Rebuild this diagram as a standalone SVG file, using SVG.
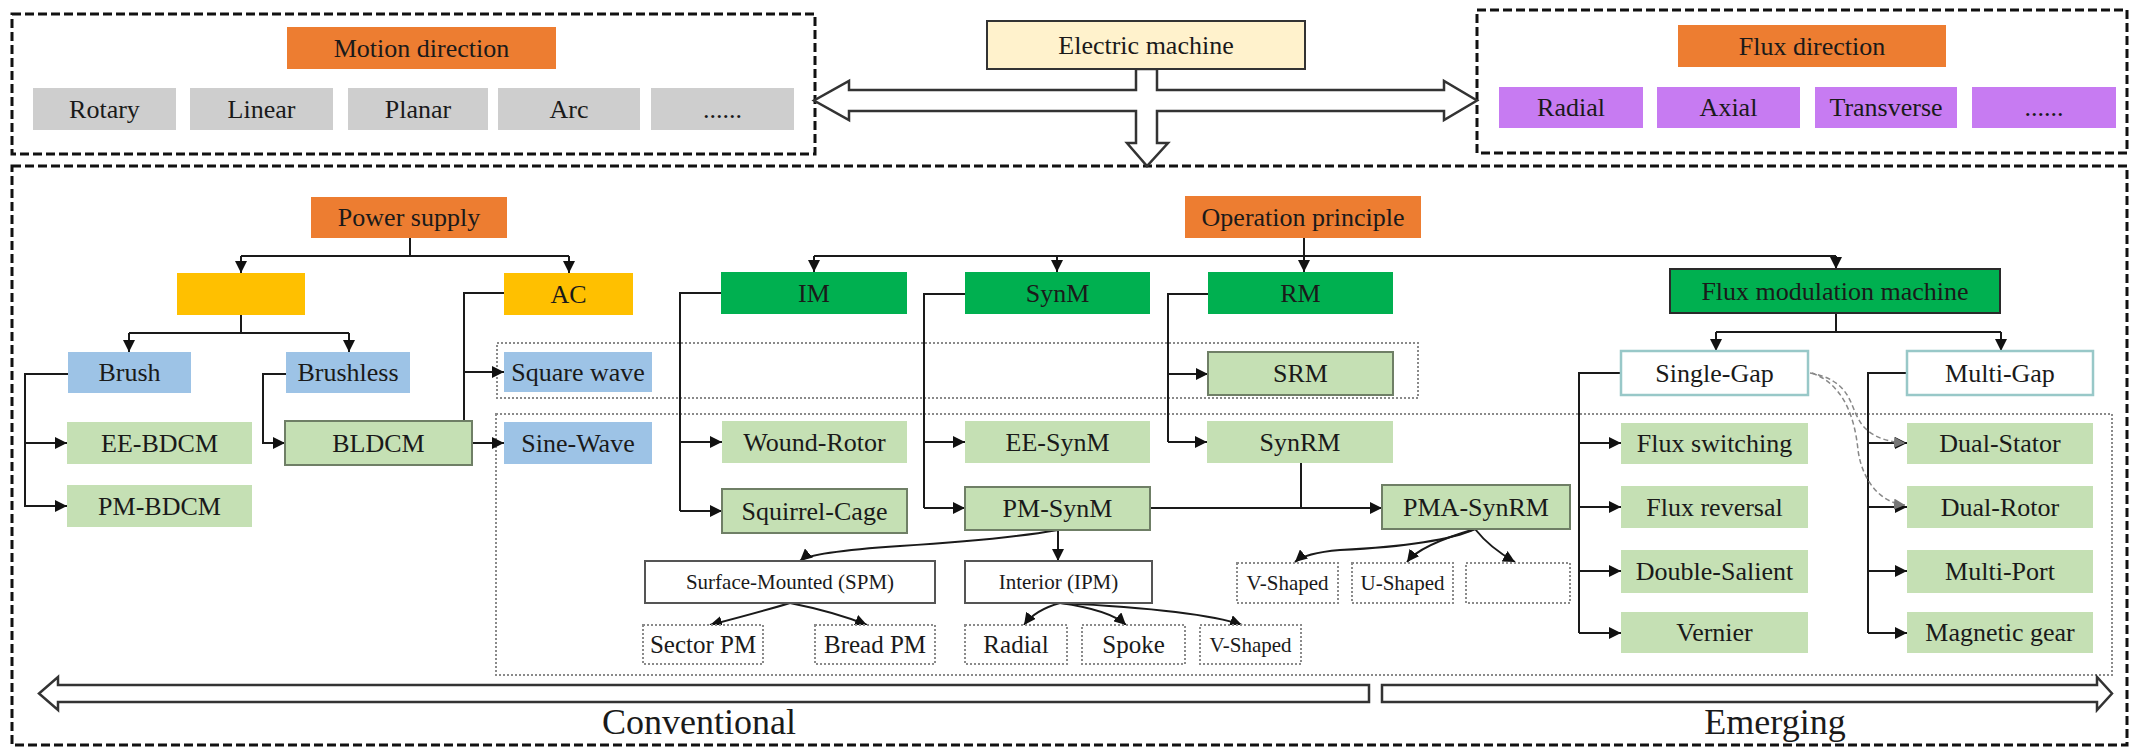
<svg xmlns="http://www.w3.org/2000/svg" width="2131" height="747" viewBox="0 0 2131 747">
<defs>
<marker id="ah" viewBox="0 0 10 10" refX="10" refY="5" markerWidth="12" markerHeight="12" markerUnits="userSpaceOnUse" orient="auto"><path d="M0,0 L10,5 L0,10 z" fill="#111"/></marker>
<marker id="ahg" viewBox="0 0 10 10" refX="10" refY="5" markerWidth="11" markerHeight="11" markerUnits="userSpaceOnUse" orient="auto"><path d="M0,0 L10,5 L0,10 z" fill="#777"/></marker>
<style>
text{font-family:"Liberation Serif","Times New Roman",serif;fill:#1a1a1a;text-anchor:middle;dominant-baseline:central}
.t26{font-size:26px}.t21{font-size:21px}.t25{font-size:25px}.t36{font-size:36px}
.frame{fill:none;stroke:#111;stroke-width:3;stroke-dasharray:9 4}
.dotbox{fill:none;stroke:#8a8a8a;stroke-width:2;stroke-dasharray:2 2}
.orange{fill:#ED7D31}
.gray{fill:#CECECE}
.purple{fill:#C77BF2}
.yellow{fill:#FFC000}
.blue{fill:#9DC3E6}
.dgreen{fill:#00B050}
.lgreen{fill:#C5E0B4}
.lgb{fill:#C5E0B4;stroke:#6f7f66;stroke-width:2}
.em{fill:#FFF2CC;stroke:#333;stroke-width:2}
.fmm{fill:#00B050;stroke:#2a2a2a;stroke-width:2}
.teal{fill:#fff;stroke:#98C8C8;stroke-width:2.5}
.solid{fill:#fff;stroke:#555;stroke-width:2}
.dotted{fill:#fff;stroke:#8a8a8a;stroke-width:2;stroke-dasharray:2 2}
.hollow{fill:#fff;stroke:#333;stroke-width:2.5;stroke-linejoin:miter}
#connectors path,#connectors line,#connectors polyline{fill:none;stroke:#1a1a1a;stroke-width:2}
#connectors .arr{marker-end:url(#ah)}
#connectors .gd{stroke:#888;stroke-width:1.5;stroke-dasharray:5 3;marker-end:url(#ahg)}
</style>
</defs>
<rect width="2131" height="747" fill="#fff"/>

<!-- frames -->
<g id="frames">
<rect class="frame" x="12" y="14" width="803" height="140"/>
<rect class="frame" x="1477" y="10" width="650" height="143"/>
<rect class="frame" x="12" y="166" width="2115" height="579"/>
<rect class="dotbox" x="497" y="343" width="921" height="55"/>
<rect class="dotbox" x="496" y="414" width="1616" height="261"/>
</g>

<!-- big hollow arrows -->
<g id="hollow-arrows">
<polygon class="hollow" points="1136,69 1136,90 849,90 849,81 814,100.5 849,120 849,111 1136,111 1136,143 1127,143 1147,166 1168,143 1157,143 1157,111 1444,111 1444,120 1477,100.5 1444,81 1444,90 1157,90 1157,69"/>
<polygon class="hollow" points="1369,685 58,685 58,677 39,693.5 58,710 58,702 1369,702"/>
<polygon class="hollow" points="1382,685 2097,685 2097,677 2112,693.5 2097,710 2097,702 1382,702"/>
</g>

<!-- connectors -->
<g id="connectors">
<line x1="410" y1="238" x2="410" y2="256"/>
<line x1="241" y1="256" x2="569" y2="256"/>
<line class="arr" x1="241" y1="256" x2="241" y2="273"/>
<line class="arr" x1="569" y1="256" x2="569" y2="273"/>
<line x1="241" y1="315" x2="241" y2="333"/>
<line x1="129" y1="333" x2="349" y2="333"/>
<line class="arr" x1="129" y1="333" x2="129" y2="352"/>
<line class="arr" x1="349" y1="333" x2="349" y2="352"/>
<polyline points="68,374 25,374 25,507"/>
<line class="arr" x1="25" y1="443" x2="67" y2="443"/>
<line class="arr" x1="25" y1="506" x2="67" y2="506"/>
<polyline class="arr" points="286,374 263,374 263,443 285,443"/>
<polyline class="arr" points="504,293 464,293 464,443 504,443"/>
<line class="arr" x1="464" y1="372" x2="504" y2="372"/>
<line x1="1304" y1="238" x2="1304" y2="256"/>
<line x1="814" y1="256" x2="1836" y2="256"/>
<line class="arr" x1="814" y1="256" x2="814" y2="272"/>
<line class="arr" x1="1057" y1="256" x2="1057" y2="272"/>
<line class="arr" x1="1304" y1="256" x2="1304" y2="272"/>
<line class="arr" x1="1836" y1="256" x2="1836" y2="269"/>
<polyline points="721,293 680,293 680,511"/>
<line class="arr" x1="680" y1="442" x2="722" y2="442"/>
<line class="arr" x1="680" y1="511" x2="722" y2="511"/>
<polyline points="965,294 924,294 924,508"/>
<line class="arr" x1="924" y1="442" x2="965" y2="442"/>
<line class="arr" x1="924" y1="508" x2="965" y2="508"/>
<polyline points="1208,294 1168,294 1168,442"/>
<line class="arr" x1="1168" y1="374" x2="1208" y2="374"/>
<line class="arr" x1="1168" y1="442" x2="1207" y2="442"/>
<line x1="1301" y1="463" x2="1301" y2="508"/>
<line class="arr" x1="1150" y1="508" x2="1382" y2="508"/>
<path class="arr" d="M1058,530 Q1000,540 900,546 Q810,552 800,561"/>
<line class="arr" x1="1058" y1="530" x2="1058" y2="561"/>
<path class="arr" d="M790,603 Q760,612 710,625"/>
<path class="arr" d="M790,603 Q835,612 867,625"/>
<path class="arr" d="M1060,603 Q1035,610 1024,625"/>
<path class="arr" d="M1060,603 Q1110,610 1126,625"/>
<path class="arr" d="M1060,603 Q1200,610 1242,625"/>
<path class="arr" d="M1475,529 Q1440,545 1340,550 Q1305,553 1295,562"/>
<path class="arr" d="M1475,529 Q1420,545 1407,562"/>
<path class="arr" d="M1475,529 Q1490,548 1515,562"/>
<line x1="1836" y1="313" x2="1836" y2="332"/>
<line x1="1716" y1="332" x2="2001" y2="332"/>
<line class="arr" x1="1716" y1="332" x2="1716" y2="351"/>
<line class="arr" x1="2001" y1="332" x2="2001" y2="351"/>
<polyline points="1621,373 1579,373 1579,633"/>
<line class="arr" x1="1579" y1="443" x2="1621" y2="443"/>
<line class="arr" x1="1579" y1="507" x2="1621" y2="507"/>
<line class="arr" x1="1579" y1="571" x2="1621" y2="571"/>
<line class="arr" x1="1579" y1="633" x2="1621" y2="633"/>
<polyline points="1907,373 1868,373 1868,633"/>
<line class="arr" x1="1868" y1="443" x2="1907" y2="443"/>
<line class="arr" x1="1868" y1="507" x2="1907" y2="507"/>
<line class="arr" x1="1868" y1="571" x2="1907" y2="571"/>
<line class="arr" x1="1868" y1="633" x2="1907" y2="633"/>
<path class="gd" d="M1810,373 C1850,380 1850,405 1858,418 C1866,435 1885,442 1905,443"/>
<path class="gd" d="M1812,373 C1845,385 1855,420 1858,450 C1862,480 1880,503 1905,505"/>
</g>

<!-- nodes -->
<g id="motion-direction"><rect class="orange" x="287" y="27" width="269" height="42"/><text class="t26" x="421.5" y="48">Motion direction</text></g>
<g id="rotary"><rect class="gray" x="33" y="88" width="143" height="42"/><text class="t26" x="104.5" y="109">Rotary</text></g>
<g id="linear"><rect class="gray" x="190" y="88" width="143" height="42"/><text class="t26" x="261.5" y="109">Linear</text></g>
<g id="planar"><rect class="gray" x="348" y="88" width="140" height="42"/><text class="t26" x="418" y="109">Planar</text></g>
<g id="arc"><rect class="gray" x="498" y="88" width="142" height="42"/><text class="t26" x="569" y="109">Arc</text></g>
<g id="motion-more"><rect class="gray" x="651" y="88" width="143" height="42"/><text class="t26" x="722.5" y="109">......</text></g>

<g id="electric-machine"><rect class="em" x="987" y="21" width="318" height="48"/><text class="t26" x="1146" y="45">Electric machine</text></g>

<g id="flux-direction"><rect class="orange" x="1678" y="25" width="268" height="42"/><text class="t26" x="1812" y="46">Flux direction</text></g>
<g id="flux-radial"><rect class="purple" x="1499" y="87" width="144" height="41"/><text class="t26" x="1571" y="107.5">Radial</text></g>
<g id="flux-axial"><rect class="purple" x="1657" y="87" width="143" height="41"/><text class="t26" x="1728.5" y="107.5">Axial</text></g>
<g id="flux-transverse"><rect class="purple" x="1815" y="87" width="142" height="41"/><text class="t26" x="1886" y="107.5">Transverse</text></g>
<g id="flux-more"><rect class="purple" x="1972" y="87" width="144" height="41"/><text class="t26" x="2044" y="107.5">......</text></g>

<g id="power-supply"><rect class="orange" x="311" y="197" width="196" height="41"/><text class="t26" x="409" y="217.5">Power supply</text></g>
<g id="dc"><rect class="yellow" x="177" y="273" width="128" height="42"/></g>
<g id="ac"><rect class="yellow" x="504" y="273" width="129" height="42"/><text class="t26" x="568.5" y="294">AC</text></g>
<g id="brush"><rect class="blue" x="68" y="352" width="123" height="41"/><text class="t26" x="129.5" y="372.5">Brush</text></g>
<g id="brushless"><rect class="blue" x="286" y="352" width="124" height="41"/><text class="t26" x="348" y="372.5">Brushless</text></g>
<g id="square-wave"><rect class="blue" x="504" y="352" width="148" height="40"/><text class="t26" x="578" y="372">Square wave</text></g>
<g id="ee-bdcm"><rect class="lgreen" x="67" y="422" width="185" height="42"/><text class="t26" x="159.5" y="443">EE-BDCM</text></g>
<g id="pm-bdcm"><rect class="lgreen" x="67" y="485" width="185" height="42"/><text class="t26" x="159.5" y="506">PM-BDCM</text></g>
<g id="bldcm"><rect class="lgb" x="285" y="421" width="187" height="44"/><text class="t26" x="378.5" y="443">BLDCM</text></g>
<g id="sine-wave"><rect class="blue" x="504" y="422" width="148" height="42"/><text class="t26" x="578" y="443">Sine-Wave</text></g>

<g id="operation-principle"><rect class="orange" x="1185" y="196" width="236" height="42"/><text class="t26" x="1303" y="217">Operation principle</text></g>
<g id="im"><rect class="dgreen" x="721" y="272" width="186" height="42"/><text class="t26" x="814" y="293">IM</text></g>
<g id="synm"><rect class="dgreen" x="965" y="272" width="185" height="42"/><text class="t26" x="1057.5" y="293">SynM</text></g>
<g id="rm"><rect class="dgreen" x="1208" y="272" width="185" height="42"/><text class="t26" x="1300.5" y="293">RM</text></g>
<g id="flux-modulation-machine"><rect class="fmm" x="1670" y="269" width="330" height="44"/><text class="t26" x="1835" y="291">Flux modulation machine</text></g>
<g id="srm"><rect class="lgb" x="1208" y="352" width="185" height="43"/><text class="t26" x="1300.5" y="373.5">SRM</text></g>
<g id="single-gap"><rect class="teal" x="1621" y="351" width="187" height="44"/><text class="t26" x="1714.5" y="373">Single-Gap</text></g>
<g id="multi-gap"><rect class="teal" x="1907" y="351" width="186" height="44"/><text class="t26" x="2000" y="373">Multi-Gap</text></g>

<g id="wound-rotor"><rect class="lgreen" x="722" y="421" width="185" height="42"/><text class="t26" x="814.5" y="442">Wound-Rotor</text></g>
<g id="squirrel-cage"><rect class="lgb" x="722" y="489" width="185" height="44"/><text class="t26" x="814.5" y="511">Squirrel-Cage</text></g>
<g id="ee-synm"><rect class="lgreen" x="965" y="421" width="185" height="42"/><text class="t26" x="1057.5" y="442">EE-SynM</text></g>
<g id="pm-synm"><rect class="lgb" x="965" y="487" width="185" height="43"/><text class="t26" x="1057.5" y="508.5">PM-SynM</text></g>
<g id="synrm"><rect class="lgreen" x="1207" y="421" width="186" height="42"/><text class="t26" x="1300" y="442">SynRM</text></g>
<g id="pma-synrm"><rect class="lgb" x="1382" y="485" width="188" height="44"/><text class="t26" x="1476" y="507">PMA-SynRM</text></g>

<g id="spm"><rect class="solid" x="645" y="561" width="290" height="42"/><text class="t21" x="790" y="582">Surface-Mounted (SPM)</text></g>
<g id="ipm"><rect class="solid" x="965" y="561" width="187" height="42"/><text class="t21" x="1058.5" y="582">Interior (IPM)</text></g>
<g id="sector-pm"><rect class="dotted" x="643" y="625" width="120" height="39"/><text class="t25" x="703" y="644.5">Sector PM</text></g>
<g id="bread-pm"><rect class="dotted" x="815" y="625" width="120" height="39"/><text class="t25" x="875" y="644.5">Bread PM</text></g>
<g id="ipm-radial"><rect class="dotted" x="965" y="625" width="102" height="39"/><text class="t25" x="1016" y="644.5">Radial</text></g>
<g id="ipm-spoke"><rect class="dotted" x="1082" y="625" width="103" height="39"/><text class="t25" x="1133.5" y="644.5">Spoke</text></g>
<g id="ipm-v-shaped"><rect class="dotted" x="1200" y="625" width="101" height="39"/><text class="t21" x="1250.5" y="644.5">V-Shaped</text></g>
<g id="pma-v-shaped"><rect class="dotted" x="1237" y="563" width="101" height="40"/><text class="t21" x="1287.5" y="583">V-Shaped</text></g>
<g id="pma-u-shaped"><rect class="dotted" x="1352" y="563" width="101" height="40"/><text class="t21" x="1402.5" y="583">U-Shaped</text></g>
<g id="pma-empty"><rect class="dotted" x="1466" y="563" width="104" height="40"/></g>

<g id="flux-switching"><rect class="lgreen" x="1621" y="423" width="187" height="41"/><text class="t26" x="1714.5" y="443.5">Flux switching</text></g>
<g id="flux-reversal"><rect class="lgreen" x="1621" y="486" width="187" height="42"/><text class="t26" x="1714.5" y="507">Flux reversal</text></g>
<g id="double-salient"><rect class="lgreen" x="1621" y="550" width="187" height="43"/><text class="t26" x="1714.5" y="571.5">Double-Salient</text></g>
<g id="vernier"><rect class="lgreen" x="1621" y="612" width="187" height="41"/><text class="t26" x="1714.5" y="632.5">Vernier</text></g>
<g id="dual-stator"><rect class="lgreen" x="1907" y="423" width="186" height="41"/><text class="t26" x="2000" y="443.5">Dual-Stator</text></g>
<g id="dual-rotor"><rect class="lgreen" x="1907" y="486" width="186" height="42"/><text class="t26" x="2000" y="507">Dual-Rotor</text></g>
<g id="multi-port"><rect class="lgreen" x="1907" y="550" width="186" height="43"/><text class="t26" x="2000" y="571.5">Multi-Port</text></g>
<g id="magnetic-gear"><rect class="lgreen" x="1907" y="612" width="186" height="41"/><text class="t26" x="2000" y="632.5">Magnetic gear</text></g>

<g id="labels">
<text class="t36" x="699" y="722">Conventional</text>
<text class="t36" x="1775" y="722">Emerging</text>
</g>
</svg>
